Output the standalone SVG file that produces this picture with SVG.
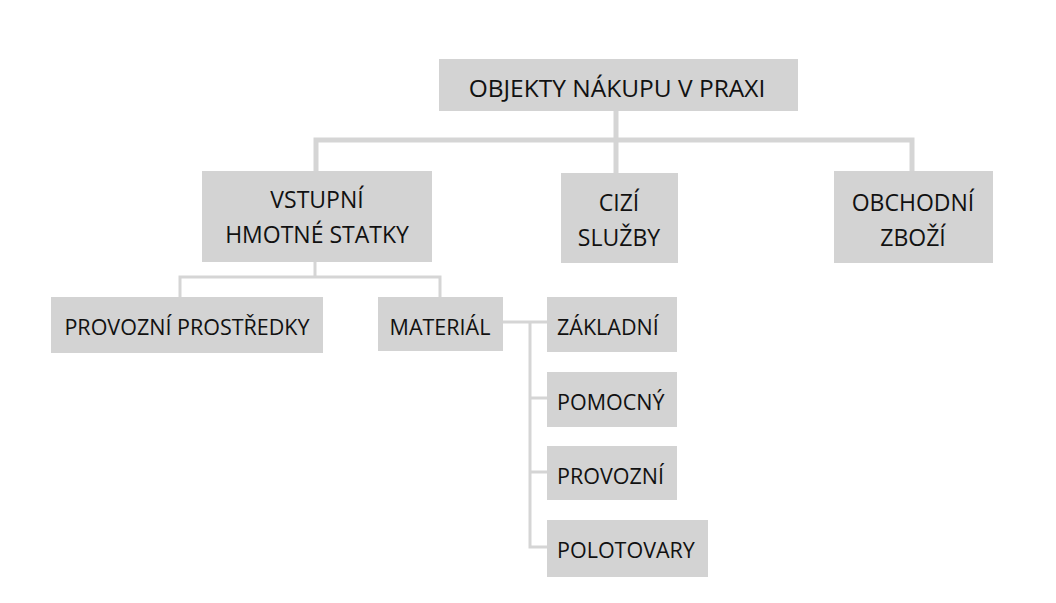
<svg xmlns="http://www.w3.org/2000/svg" width="1056" height="603" viewBox="0 0 1056 603">
<style>
.box{fill:#d3d3d3}
.t{font-family:"Open Sans","Liberation Sans",sans-serif;fill:#111111;text-anchor:middle}
.l{text-anchor:start}
.title{font-size:24.5px}
.big{font-size:23px}
.sm{font-size:21.5px}
.c1{fill:none;stroke:#d5d5d5;stroke-width:5}
.c2{fill:none;stroke:#d5d5d5;stroke-width:3}
</style>
<rect width="1056" height="603" fill="#ffffff"/>
<g id="connectors">
<path class="c1" d="M616 111V174M316 171V140H912V171"/>
<path class="c2" d="M315 262V277M180 297V277H440V297"/>
<path class="c2" d="M503 322H547M530 322V547H547M530 398H547M530 472H547"/>
</g>
<g id="n-root"><rect class="box" x="439" y="59" width="359" height="52"/><text class="t title" x="617" y="97">OBJEKTY NÁKUPU V PRAXI</text></g>
<g id="n-vstupni"><rect class="box" x="202" y="171" width="230" height="91"/><text class="t big" x="317" y="208">VSTUPNÍ</text><text class="t big" x="317" y="243">HMOTNÉ STATKY</text></g>
<g id="n-cizi"><rect class="box" x="561" y="173" width="117" height="90"/><text class="t big" x="619" y="211">CIZÍ</text><text class="t big" x="619" y="246">SLUŽBY</text></g>
<g id="n-obchodni"><rect class="box" x="834" y="171" width="159" height="92"/><text class="t big" x="913" y="211">OBCHODNÍ</text><text class="t big" x="913" y="246">ZBOŽÍ</text></g>
<g id="n-provozni-prostredky"><rect class="box" x="51" y="297" width="272" height="56"/><text class="t sm" x="187" y="335">PROVOZNÍ PROSTŘEDKY</text></g>
<g id="n-material"><rect class="box" x="378" y="297" width="125" height="54"/><text class="t sm" x="440" y="335">MATERIÁL</text></g>
<g id="n-zakladni"><rect class="box" x="547" y="297" width="130" height="55"/><text class="t sm l" x="557" y="335">ZÁKLADNÍ</text></g>
<g id="n-pomocny"><rect class="box" x="547" y="372" width="130" height="55"/><text class="t sm l" x="557" y="410">POMOCNÝ</text></g>
<g id="n-provozni"><rect class="box" x="547" y="446" width="130" height="54"/><text class="t sm l" x="557" y="484">PROVOZNÍ</text></g>
<g id="n-polotovary"><rect class="box" x="547" y="520" width="161" height="57"/><text class="t sm l" x="557" y="558">POLOTOVARY</text></g>
</svg>
